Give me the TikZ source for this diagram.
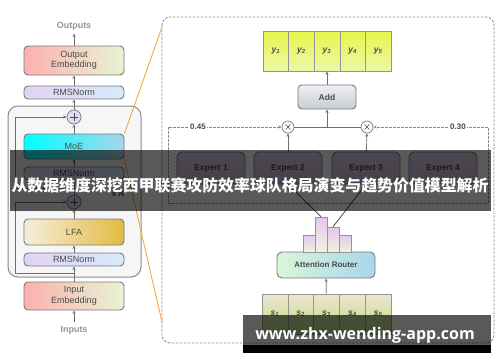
\documentclass[tikz,border=0pt]{standalone}
\usepackage{fontspec}
\setmainfont{Liberation Sans}
\setsansfont{Liberation Sans}
\newfontfamily\cjkfont{Noto Sans CJK SC}
\newfontfamily\wmfont{Open Sans}
\usetikzlibrary{arrows.meta,calc}
\definecolor{linegray}{HTML}{6E6E6E}
\definecolor{bordergray}{HTML}{7A7A7A}
\definecolor{textgray}{HTML}{4A4A4A}
\definecolor{lightgray}{HTML}{959595}
\definecolor{dashgray}{HTML}{8A8A8A}
\definecolor{embL}{HTML}{FCB0B0}
\definecolor{embR}{HTML}{E6F5D3}
\definecolor{rmsL}{HTML}{E2D2F6}
\definecolor{rmsR}{HTML}{D6EAF8}
\definecolor{moeL}{HTML}{00FFFF}
\definecolor{moeR}{HTML}{A6D6EA}
\definecolor{lfaL}{HTML}{F6EEDC}
\definecolor{lfaR}{HTML}{E3BB40}
\definecolor{contfill}{HTML}{F6F6F6}
\definecolor{plusfill}{HTML}{DEDCF4}
\definecolor{orangeline}{HTML}{F5A030}
\definecolor{yT}{HTML}{E6F64A}
\definecolor{yB}{HTML}{EEF7A8}
\definecolor{addT}{HTML}{EEF1F4}
\definecolor{addB}{HTML}{C5CCD4}
\definecolor{expT}{HTML}{DCCBE6}
\definecolor{expB}{HTML}{C9B6D6}
\definecolor{barT}{HTML}{E6C6F0}
\definecolor{barB}{HTML}{EEF4DC}
\definecolor{rtL}{HTML}{D8F6D8}
\definecolor{rtR}{HTML}{A8D6EE}
\definecolor{sT}{HTML}{F0E6D2}
\definecolor{sB}{HTML}{B8DA80}
\tikzset{
  lbox/.style={draw=bordergray, line width=0.9pt, rounded corners=4pt, minimum width=100pt,
    inner sep=0pt, align=center, text=textgray, font=\fontsize{9}{10.5}\selectfont},
  arr/.style={draw=linegray, line width=0.7pt, -{Stealth[length=3.5pt,width=3pt]}},
  dsh/.style={draw=dashgray, line width=0.8pt, dash pattern=on 2.5pt off 1.5pt},
  plus/.style={circle, draw=bordergray, fill=plusfill, line width=0.7pt, minimum size=14pt, inner sep=0pt,
    path picture={\draw[textgray, line width=0.6pt]
      ($(path picture bounding box.center)+(-4,0)$) -- ++(8,0)
      ($(path picture bounding box.center)+(0,-4)$) -- ++(0,8);}},
  mult/.style={circle, draw=bordergray, fill=white, line width=0.7pt, minimum size=12pt, inner sep=0pt,
    path picture={\draw[textgray, line width=0.6pt]
      ($(path picture bounding box.center)+(-2.5,-2.5)$) -- ++(5,5)
      ($(path picture bounding box.center)+(-2.5,2.5)$) -- ++(5,-5);}},
  ycell/.style={draw=lightgray, line width=0.6pt, top color=yT, bottom color=yB, minimum width=25.6pt,
    minimum height=40pt, inner sep=0pt, text=textgray, font=\fontsize{8.5}{9}\selectfont\bfseries\itshape},
  scell/.style={draw=lightgray, line width=0.6pt, top color=sT, bottom color=sB, minimum width=25.8pt,
    minimum height=40pt, inner sep=0pt, text=textgray, font=\fontsize{8.5}{9}\selectfont\bfseries\itshape},
  expbox/.style={draw=bordergray, line width=0.9pt, rounded corners=5pt, top color=expT, bottom color=expB,
    minimum width=68pt, minimum height=32pt, inner sep=0pt, text=textgray, font=\fontsize{8.5}{10}\selectfont\bfseries},
  barbox/.style={draw=lightgray, line width=0.6pt, top color=barT, bottom color=barB, minimum width=12pt, inner sep=0pt},
  wlabel/.style={fill=white, inner sep=1.5pt, text=textgray, font=\fontsize{8}{9}\selectfont\bfseries},
}
\begin{document}
\begin{tikzpicture}[x=1pt,y=-1pt]
\useasboundingbox (0,0) rectangle (500,362);
\fill[white] (0,0) rectangle (500,362);

% ---------- left panel ----------
\draw[draw=dashgray, fill=contfill, line width=1pt, rounded corners=10pt] (8,106) rectangle (141,277);

\node[text=lightgray, font=\fontsize{9}{10}\selectfont\bfseries] (outputs) at (74,26) {Outputs};
\node[lbox, minimum height=29pt, left color=embL, right color=embR] (outemb) at (74,60.5) {Output\\Embedding};
\node[lbox, minimum height=13pt, left color=rmsL, right color=rmsR] (rms1) at (74,92.5) {RMSNorm};
\node[plus] (plus1) at (74,117) {};
\node[lbox, minimum height=25pt, left color=moeL, right color=moeR] (moe) at (74,146.5) {MoE};
\node[lbox, minimum height=13pt, left color=rmsL, right color=rmsR] (rms2) at (74,173.5) {RMSNorm};
\node[plus] (plus2) at (74,202) {};
\node[text=textgray, font=\fontsize{8}{9}\selectfont\bfseries] (xn) at (118,194) {x N};
\node[lbox, minimum height=26pt, left color=lfaL, right color=lfaR] (lfa) at (74,232) {LFA};
\node[lbox, minimum height=13pt, left color=rmsL, right color=rmsR] (rms3) at (74,259.5) {RMSNorm};
\node[lbox, minimum height=28pt, left color=embL, right color=embR] (inemb) at (74,296) {Input\\Embedding};
\node[text=lightgray, font=\fontsize{9}{10}\selectfont\bfseries] (inputs) at (74,330) {Inputs};

\draw[arr] (inputs) -- (inemb);
\draw[arr] (inemb) -- (rms3);
\draw[arr] (rms3) -- (lfa);
\draw[arr] (lfa) -- (plus2);
\draw[arr] (plus2) -- (rms2);
\draw[arr] (rms2) -- (moe);
\draw[arr] (moe) -- (plus1);
\draw[arr] (plus1) -- (rms1);
\draw[arr] (rms1) -- (outemb);
\draw[arr] (outemb) -- (outputs);

\coordinate (ra0) at (74,273);
\coordinate (ra1) at (15,202);
\coordinate (rb0) at (74,188);
\coordinate (rb1) at (15,117);
\draw[arr] (ra0) -| (ra1) -- (plus2);
\draw[arr] (rb0) -| (rb1) -- (plus1);

% ---------- right panel ----------
\draw[dsh, rounded corners=8pt] (162,17) rectangle (494,343);

\coordinate (zoomtop) at (162,27);
\coordinate (zoombot) at (162,322);
\draw[orangeline, line width=0.8pt] (moe.north east) -- (zoomtop);
\draw[orangeline, line width=0.8pt] (moe.south east) -- (zoombot);

\foreach \i in {1,...,5} {
  \node[ycell] (y\i) at ({263+12.8+25.6*(\i-1)},51) {y\textsubscript{\i}};
}
\node[draw=bordergray, line width=0.9pt, rounded corners=4pt, top color=addT, bottom color=addB,
  minimum width=58pt, minimum height=24pt, inner sep=0pt, text=textgray,
  font=\fontsize{8.5}{10}\selectfont\bfseries] (add) at (327,97) {Add};
\draw[arr] (add) -- (y3);

\node[mult] (m1) at (288,127) {};
\node[mult] (m2) at (367,127) {};
\coordinate (mj) at (327,127);
\draw[linegray, line width=0.7pt] (m1) -- (m2);
\draw[arr] (mj) -- (add);

\coordinate (dl1) at (168,127);
\coordinate (dl2) at (168,203);
\coordinate (dr2) at (488,203);
\coordinate (dr1) at (488,127);
\draw[dsh, {Stealth[length=3.5pt,width=3pt]}-{Stealth[length=3.5pt,width=3pt]}] (m1) -- (dl1) -- (dl2) -- (dr2) -- (dr1) -- (m2);
\node[wlabel] (w1) at (198,127) {0.45};
\node[wlabel] (w2) at (458,127) {0.30};

\node[expbox] (e1) at (211,168) {Expert 1};
\node[expbox] (e2) at (288,168) {Expert 2};
\node[expbox] (e3) at (366,168) {Expert 3};
\node[expbox] (e4) at (443,168) {Expert 4};
\draw[arr] (e2) -- (m1);
\draw[arr] (e3) -- (m2);

\node[draw=bordergray, line width=0.9pt, rounded corners=5pt, left color=rtL, right color=rtR,
  minimum width=98pt, minimum height=26pt, inner sep=0pt, text=textgray,
  font=\fontsize{8}{9.5}\selectfont\bfseries] (router) at (326,265) {Attention Router};

\node[barbox, minimum height=17pt] (b1) at (309,243.5) {};
\node[barbox, minimum height=35pt] (b2) at (321,234.5) {};
\node[barbox, minimum height=25pt] (b3) at (333,239.5) {};
\node[barbox, minimum height=17pt] (b4) at (345,243.5) {};
\draw[textgray, line width=0.8pt] (e2.south) -- (b2.north);
\draw[textgray, line width=0.8pt] (e3.south) -- (b3.north);

\foreach \i in {1,...,5} {
  \node[scell] (s\i) at ({262+12.9+25.8*(\i-1)},314) {s\textsubscript{\i}};
}
\draw[arr] (s3) -- (router);

% ---------- overlays ----------
\fill[black, opacity=0.65] (10,150) rectangle (491,211);
\node[text=white, font=\cjkfont\bfseries\fontsize{15.9}{18}\selectfont] (title) at (250,185.5)
  {从数据维度深挖西甲联赛攻防效率球队格局演变与趋势价值模型解析};

\fill[black, opacity=0.65] (243,315) rectangle (491,345);
\fill[black] (243,345) rectangle (491,353);
\node[text=white, font=\wmfont\bfseries\fontsize{16}{18}\selectfont] (wm) at (365,335)
  {www.zhx-wending-app.com};
\end{tikzpicture}
\end{document}
